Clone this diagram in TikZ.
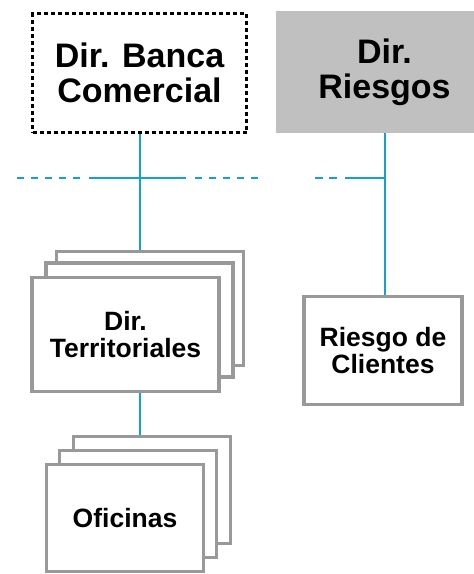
\documentclass[tikz,border=0pt]{standalone}
\usepackage{fontspec}
\setmainfont{Liberation Sans}
\usepackage{tikz}
\usetikzlibrary{backgrounds}
\definecolor{linkblue}{RGB}{20,160,210}
\definecolor{cardgray}{RGB}{153,153,153}
\definecolor{headgray}{RGB}{192,192,192}

\begin{document}
\begin{tikzpicture}[x=1pt, y=-1pt,
  bigtext/.style={font=\bfseries\fontsize{34}{35}\selectfont, align=center},
  smalltext/.style={font=\bfseries\fontsize{26.5}{27.5}\selectfont, align=center},
  dotbox/.style={draw=black, line width=3.5pt, dash pattern=on 4pt off 3pt, minimum width=214pt, minimum height=119pt, inner sep=0pt},
  headbox/.style={fill=headgray, minimum width=217pt, minimum height=122pt, inner sep=0pt},
  card/.style={draw=cardgray, line width=3.3pt, fill=white, inner sep=0pt},
  link/.style={draw=linkblue, line width=2pt},
  dashlink/.style={link, dash pattern=on 7pt off 7pt}]
\useasboundingbox[clip] (0,0) rectangle (474,574);

% Top level
\node[dotbox, bigtext] (banca) at (139.5,73) {Dir. Banca\\Comercial};
\node[headbox, bigtext] (riesgos) at (384.5,72) {Dir.\\Riesgos};

% Stacked cards, back ones first
\foreach \i/\dx/\dy in {3/24.5/-26, 2/14/-14.5} {
    \node[card, minimum width=187pt, minimum height=114pt] (terr\i) at (125.5+\dx,334.5+\dy) {};
}
\node[card, smalltext, minimum width=187pt, minimum height=114pt] (terr1) at (125.5,334.5) {Dir.\\Territoriales};

\foreach \i/\dx/\dy in {3/27/-28, 2/13/-14} {
    \node[card, minimum width=157pt, minimum height=107pt] (ofi\i) at (125+\dx,518+\dy) {};
}
\node[card, smalltext, minimum width=157pt, minimum height=107pt] (ofi1) at (125,518) {Oficinas};

\node[card, smalltext, minimum width=158pt, minimum height=108pt] (clientes) at (383,350.5) {Riesgo de\\Clientes};

% Connectors behind the cards
\coordinate (la) at (17,178);
\coordinate (lb) at (80,178);
\coordinate (lc) at (89,178);
\coordinate (ld) at (186,178);
\coordinate (le) at (195,178);
\coordinate (lf) at (258,178);
\coordinate (ra) at (315,178);
\coordinate (rb) at (337,178);
\coordinate (rc) at (345,178);
\begin{scope}[on background layer]
\draw[link] (banca.south) -- (banca.south |- terr2.north);
\draw[link] (banca.south |- terr1.south) -- (banca.south |- ofi3.north);
\draw[link] (riesgos.south) -- (riesgos.south |- clientes.north);
\draw[link] (lc) -- (ld);
\draw[link] (rc) -- (riesgos.south |- rc);
\draw[dashlink] (la) -- (lb);
\draw[dashlink] (le) -- (lf);
\draw[link, dash pattern=on 8pt off 6pt] (ra) -- (rb);
\end{scope}
\end{tikzpicture}
\end{document}
